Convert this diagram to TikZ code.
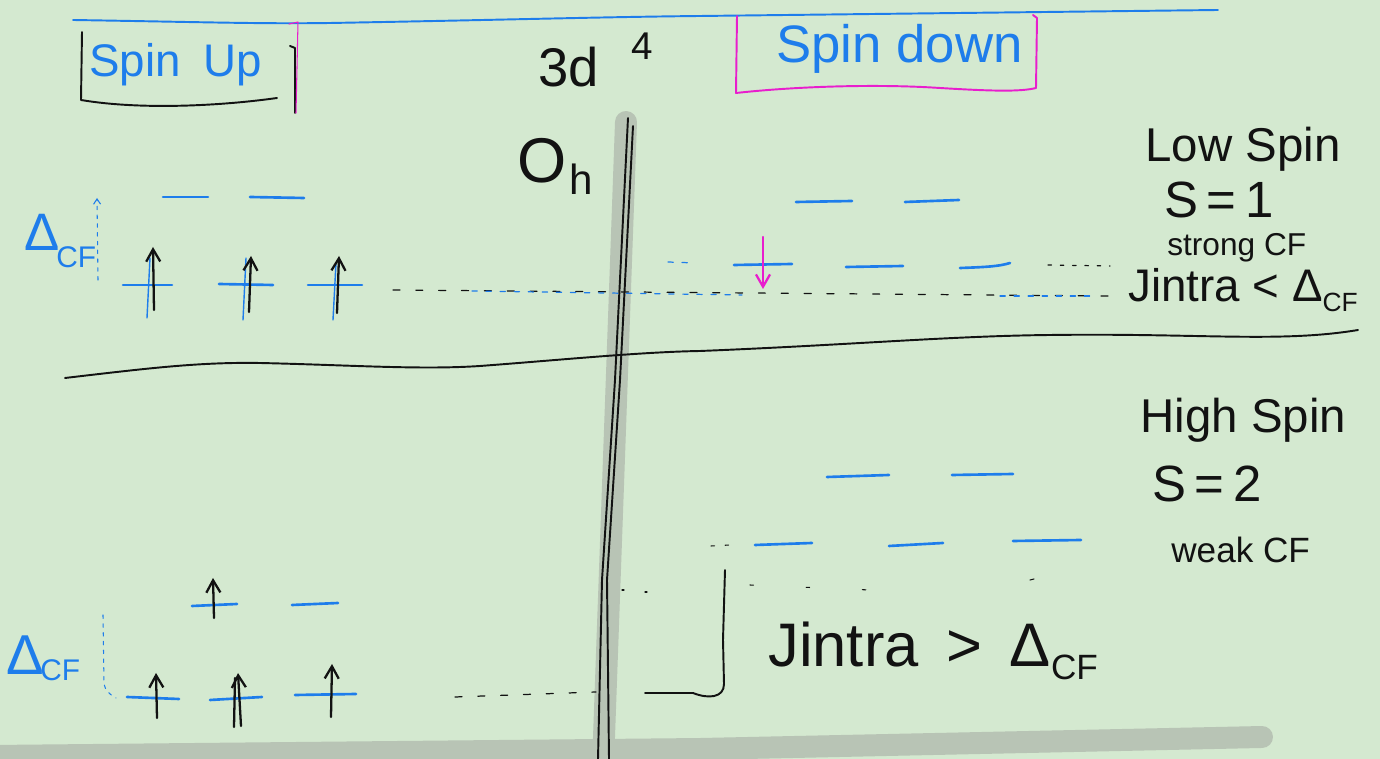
\documentclass[tikz,border=0pt]{standalone}
\usepackage{fontspec}
\setmainfont{Liberation Sans}
\usetikzlibrary{arrows.meta}
\definecolor{paper}{RGB}{212,233,208}
\definecolor{pen}{RGB}{18,18,18}
\definecolor{ink}{RGB}{30,125,235}
\definecolor{mag}{RGB}{232,30,205}
\definecolor{bar}{RGB}{184,196,181}
\newcommand\myfs[1]{\fontsize{#1}{#1}\selectfont}
\begin{document}
\begin{tikzpicture}[x=0.02cm,y=-0.02cm,line cap=round,line join=round,
  level/.style={draw=ink,line width=1.5pt},
  pencil/.style={draw=pen,line width=1.1pt},
  spinup/.style={draw=pen,line width=1.3pt,-{Straight Barb[length=7pt,width=8pt]}},
  spinstem/.style={draw=pen,line width=1.3pt},
  bluestroke/.style={draw=ink,line width=0.8pt},
  spindown/.style={draw=mag,line width=1.3pt,-{Straight Barb[length=7pt,width=8pt]}},
  greybar/.style={draw=bar,line width=12.5pt},
  txt/.style={inner sep=0pt,anchor=base west,text=pen},
  btxt/.style={inner sep=0pt,anchor=base west,text=ink},
  gapdots/.style={draw=pen,line width=0.7pt,dash pattern=on 4pt off 9pt},
  bluedots/.style={draw=ink,line width=0.7pt,dash pattern=on 3pt off 5pt},
  deltadots/.style={draw=ink,line width=0.6pt,dash pattern=on 2pt off 3pt}]
\useasboundingbox (0,0) rectangle (1380,759);
\fill[paper] (0,0) rectangle (1380,759);

% grey bars
\draw[greybar] (626,122) -- (603,765);
\draw[greybar] (-10,756) -- (700,749) -- (1262,737);

% top blue rule
\draw[draw=ink,line width=1.1pt] (73,20) .. controls (200,22) and (260,24) .. (330,23) .. controls (500,20) and (600,17) .. (700,16) -- (1218,10);

% Spin Up label box
\draw[pencil] (82,32) -- (81,100) .. controls (140,110) and (220,106) .. (277,98);
\draw[pencil] (290,46) -- (295,48) -- (295,113);
\draw[draw=mag,line width=0.6pt] (289,24) -- (298,22) -- (296,113);
\node[btxt] (spinup) at (89,77) {\myfs{26}Spin\hspace{0.5em}Up};

% 3d^4 and O_h
\node[txt] (config) at (538,87) {\myfs{31}3d};
\node[txt] (configsup) at (631,60) {\myfs{22}4};
\node[txt] (oh) at (517,183) {\myfs{36}O};
\node[txt] (ohsub) at (569,195) {\myfs{24}h};

% Spin down label box
\draw[draw=mag,line width=1.1pt] (737,16) -- (736,93) .. controls (800,86) and (880,84) .. (940,88) .. controls (990,91) and (1020,92) .. (1036,88) -- (1037,18) -- (1033,15);
\node[btxt] (spindown) at (776,63) {\myfs{30}Spin down};

% central separator
\draw[pencil] (628,118) -- (615,380) -- (602,580) -- (598,759);
\draw[pencil] (633,126) -- (620,380) -- (607,580) -- (609,759);

% horizontal divider
\draw[pencil] (65,378) .. controls (150,368) and (200,362) .. (260,363) .. controls (350,365) and (420,370) .. (480,366) .. controls (560,360) and (640,352) .. (700,351) .. controls (850,345) and (950,336) .. (1050,335) .. controls (1200,333) and (1280,343) .. (1358,330);

% ---------- upper left: low-spin spin up ----------
\node[btxt] (dcfA) at (24,251) {\myfs{30}Δ};
\node[btxt] (dcfAsub) at (56,268) {\myfs{17}CF};
\draw[deltadots,-{Straight Barb[length=3pt,width=4pt]}] (98,280) -- (97,198);
\draw[level] (163,197) -- (208,197);
\draw[level] (250,197) -- (304,198);
\draw[level] (123,285) -- (172,285);
\draw[level] (219,284) -- (273,285);
\draw[level] (308,285) -- (362,285);
\draw[bluestroke] (147,318) -- (150,258);
\draw[bluestroke] (243,320) -- (246,258);
\draw[bluestroke] (333,320) -- (336,263);
\draw[spinup] (154,310) -- (153,247);
\draw[spinup] (249,312) -- (251,256);
\draw[spinup] (337,313) -- (339,256);

% gap line, low spin
\draw[gapdots] (393,290) -- (1108,296);
\draw[bluedots] (472,291) -- (742,295);
\draw[bluedots] (1000,296) -- (1092,296);
\draw[bluedots] (668,262) -- (696,263);
\draw[draw=pen,line width=0.7pt,dash pattern=on 2pt off 5pt] (1048,265) -- (1110,266);

% ---------- upper right: low-spin spin down ----------
\draw[level] (796,202) -- (852,201);
\draw[level] (905,202) -- (959,200);
\draw[level] (734,265) -- (792,264);
\draw[level] (846,267) -- (903,266);
\draw[level] (960,268) .. controls (990,267) and (1000,266) .. (1010,263);
\draw[spindown] (763,237) -- (763,289);

\node[txt] (lowspin) at (1145,162) {\myfs{27}Low Spin};
\node[txt] (sone) at (1164,218) {\myfs{29}S\,=\,1};
\node[txt] (strong) at (1167,256) {\myfs{18}strong CF};
\node[txt] (jlow) at (1128,302) {\myfs{26}Jintra < Δ\raisebox{-0.2em}{\myfs{15}CF}};

% ---------- lower left: high-spin spin up ----------
\node[btxt] (dcfB) at (6,675) {\myfs{32}Δ};
\node[btxt] (dcfBsub) at (40,681) {\myfs{17}CF};
\draw[deltadots] (103,615) -- (104,684) .. controls (105,690) and (110,695) .. (116,698);
\draw[level] (192,606) -- (237,604);
\draw[level] (292,605) -- (338,603);
\draw[level] (127,697) -- (179,699);
\draw[level] (210,700) -- (262,697);
\draw[level] (295,695) -- (356,694);
\draw[spinup] (214,618) -- (213,578);
\draw[spinup] (157,718) -- (156,673);
\draw[spinstem] (234,727) -- (235,678);
\draw[spinup] (241,726) -- (238,673);
\draw[spinup] (331,717) -- (332,664);

% gap bracket, high spin
\draw[gapdots] (455,697) -- (596,692);
\draw[pencil] (645,693) -- (693,693);
\draw[pencil] (725,570) -- (723,640) -- (724,684) .. controls (724,698) and (708,699) .. (693,693);
\draw[draw=pen,line width=0.6pt,dash pattern=on 2pt off 30pt] (750,585) -- (870,590);
\draw[draw=pen,line width=0.6pt] (1030,580) -- (1034,579);
\draw[draw=pen,line width=0.6pt] (622,590) -- (624,590);
\draw[draw=pen,line width=0.6pt] (645,592) -- (647,592);

% ---------- lower right: high-spin spin down ----------
\draw[level] (827,477) -- (889,475);
\draw[level] (952,475) -- (1013,474);
\draw[level] (755,545) -- (812,543);
\draw[level] (889,546) -- (943,543);
\draw[level] (1013,541) -- (1081,540);
\draw[draw=pen,line width=0.6pt,dash pattern=on 2pt off 6pt] (711,546) -- (730,545);

\node[txt] (highspin) at (1140,433) {\myfs{27}High Spin};
\node[txt] (stwo) at (1152,502) {\myfs{29}S\,=\,2};
\node[txt] (weak) at (1171,563) {\myfs{20}weak CF};
\node[txt] (jhigh) at (768,667) {\myfs{35}Jintra\hspace{0.45em}>\hspace{0.45em}Δ\raisebox{-0.2em}{\myfs{20}CF}};
\end{tikzpicture}
\end{document}
